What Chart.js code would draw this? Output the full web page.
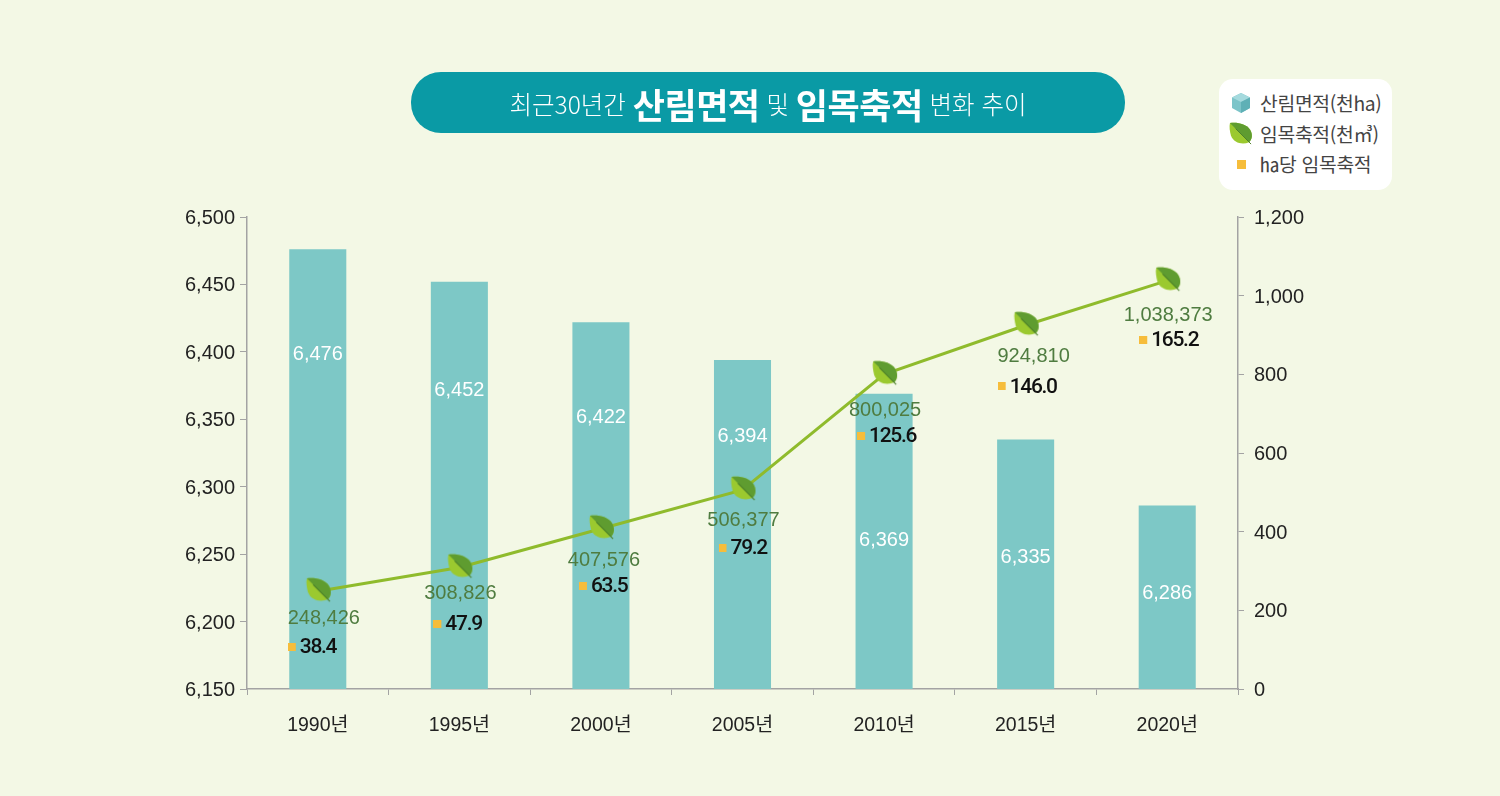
<!DOCTYPE html>
<html lang="ko">
<head>
<meta charset="utf-8">
<title>최근30년간 산림면적 및 임목축적 변화 추이</title>
<script src="https://cdn.jsdelivr.net/npm/chart.js@4"></script>
<style>
  html, body { margin: 0; padding: 0; background: #f3f8e5; }
  body { width: 1500px; height: 796px; overflow: hidden; position: relative;
         font-family: 'Liberation Sans', 'Noto Sans CJK KR', sans-serif; }
  #chart { position: absolute; left: 0; top: 0; }
  #title { position: absolute; left: 411px; top: 72px; width: 714px; height: 59px; padding-top: 2px; border-radius: 30px;
           background: #0a9aa5; color: #fff; display: flex; align-items: center; justify-content: center;
           font-family: 'Noto Sans CJK KR', sans-serif; font-size: 24.5px; font-weight: 300; white-space: pre; }
  #title b { font-size: 35px; font-weight: 700; letter-spacing: -0.5px; }
  #legend { position: absolute; left: 1219px; top: 79px; width: 173px; height: 111px; border-radius: 14px; background: #fff; }
  .item { position: absolute; left: 0; height: 30px; width: 173px; color: #444; font-size: 19.3px; line-height: 30px;
          font-family: 'Noto Sans CJK KR', sans-serif; font-weight: 400; white-space: nowrap; letter-spacing: -0.3px; }
  .item span { position: absolute; left: 41px; top: 0; }
  .item svg { position: absolute; left: 10px; top: 3px; }
</style>
</head>
<body>
<canvas id="chart" width="1500" height="796"></canvas>
<div id="title">최근30년간 <b>산림면적</b> 및 <b>임목축적</b> 변화 추이</div>
<div id="legend"></div>
<script>
// Data
const years = ['1990년', '1995년', '2000년', '2005년', '2010년', '2015년', '2020년'];
const forestArea = [6476, 6452, 6422, 6394, 6369, 6335, 6286];
const growingStock = [248426, 308826, 407576, 506377, 800025, 924810, 1038373];
const stockPerHa = [38.4, 47.9, 63.5, 79.2, 125.6, 146.0, 165.2];
const leftTicks = [6150, 6200, 6250, 6300, 6350, 6400, 6450, 6500];
const rightTicks = [0, 200000, 400000, 600000, 800000, 1000000, 1200000];
const seriesNames = ['산림면적(천ha)', '임목축적(천㎥)', '㏊당 임목축적'];

// Label placement, pixels
const areaLabelDrop = [105, 109, 95, 77, 147, 118, 88];
const stockLabelDx = [6, 1, 3, 1, 1, 8, 1];
const stockLabelDrop = [27, 26, 32, 31, 36, 31, 35];
const squareDx = [26, 22, 18, 20, 23, 24, 24];

const LEAF_BODY = 'M1 1C9 0 18 2 22 8C25 13 24 18 21 21C14 24 5 22 2 14C1 10 0 5 1 1Z';
const LEAF_DARK = 'M1 1C9 0 18 2 22 8C25 13 24 18 21 21Z';
const LEAF_STEM = 'M7 7L23 23';

const fmt = v => v.toLocaleString('en-US');

function leafImage() {
  const c = document.createElement('canvas');
  c.width = 30; c.height = 30;
  const ctx = c.getContext('2d');
  ctx.translate(3, 1);
  ctx.scale(1.05, 1.05);
  ctx.fillStyle = '#9bc92f';
  ctx.fill(new Path2D(LEAF_BODY));
  ctx.fillStyle = '#5f9c30';
  ctx.fill(new Path2D(LEAF_DARK));
  ctx.strokeStyle = '#4b7f2a';
  ctx.lineWidth = 1;
  ctx.stroke(new Path2D(LEAF_STEM));
  return c;
}

// point image with the square shifted left of the category centre
function squareImage(dx) {
  const c = document.createElement('canvas');
  c.width = (dx + 4) * 2; c.height = 8;
  const ctx = c.getContext('2d');
  ctx.fillStyle = '#f6bd3b';
  ctx.fillRect(0, 0, 8, 8);
  return c;
}

const leaf = leafImage();
const squares = squareDx.map(squareImage);

const valueLabels = {
  id: 'valueLabels',
  afterDatasetsDraw(chart) {
    const ctx = chart.ctx;
    const bars = chart.getDatasetMeta(0).data;
    const line = chart.getDatasetMeta(1).data;
    const sq = chart.getDatasetMeta(2).data;
    ctx.save();
    ctx.textBaseline = 'middle';
    years.forEach((y, i) => {
      ctx.textAlign = 'center';
      ctx.font = "20px 'Liberation Sans'";
      ctx.letterSpacing = '0px';
      ctx.fillStyle = '#ffffff';
      ctx.fillText(fmt(forestArea[i]), bars[i].x, bars[i].y + areaLabelDrop[i]);
      ctx.fillStyle = '#4f7c40';
      ctx.fillText(fmt(growingStock[i]), line[i].x + stockLabelDx[i], line[i].y + stockLabelDrop[i]);
      ctx.textAlign = 'left';
      ctx.font = "500 21px Roboto";
      ctx.letterSpacing = '-1.3px';
      ctx.fillStyle = '#111111';
      ctx.fillText(stockPerHa[i].toFixed(1), sq[i].x - squareDx[i] + 8, sq[i].y + 1);
    });
    ctx.restore();
  }
};

const AXIS_GRAY = '#a3a3a3';
const TICK_FONT = { family: "'Liberation Sans', 'Noto Sans CJK KR'", size: 20 };
const YEAR_FONT = { family: "'Liberation Sans', 'Noto Sans CJK KR'", size: 19.5 };

const chart = new Chart(document.getElementById('chart'), {
  data: {
    labels: years,
    datasets: [{
      type: 'bar',
      label: seriesNames[0],
      data: forestArea,
      yAxisID: 'yArea',
      backgroundColor: '#7dc8c6',
      barPercentage: 0.403,
      categoryPercentage: 1,
      order: 3
    }, {
      type: 'line',
      label: seriesNames[1],
      data: growingStock,
      yAxisID: 'yStock',
      borderColor: '#8fbb2c',
      borderWidth: 3,
      tension: 0,
      pointStyle: leaf,
      order: 2
    }, {
      type: 'line',
      label: seriesNames[2],
      data: stockPerHa,
      yAxisID: 'yPerHa',
      showLine: false,
      pointStyle: ctx => squares[ctx.dataIndex],
      order: 1
    }]
  },
  options: {
    responsive: false,
    animation: false,
    layout: { padding: { top: 217 } },
    plugins: { legend: { display: false }, tooltip: { enabled: false } },
    scales: {
      x: {
        offset: true,
        afterFit: s => { s.height = 107; },
        border: { color: AXIS_GRAY, width: 1.5 },
        grid: { offset: true, drawOnChartArea: false, color: AXIS_GRAY, tickLength: 6 },
        ticks: { color: '#222', font: YEAR_FONT, padding: 19, maxRotation: 0 }
      },
      yArea: {
        position: 'left',
        min: 6150,
        max: 6500,
        afterFit: s => { s.width = 247; },
        afterBuildTicks: s => { s.ticks = leftTicks.map(value => ({ value })); },
        border: { color: AXIS_GRAY, width: 1.5 },
        grid: { drawOnChartArea: false, color: AXIS_GRAY, tickLength: 7 },
        ticks: { color: '#222', font: TICK_FONT, padding: 5, labelOffset: 1.5, callback: v => fmt(v) }
      },
      yStock: {
        position: 'right',
        min: 0,
        max: 1200000,
        afterFit: s => { s.width = 262; },
        afterBuildTicks: s => { s.ticks = rightTicks.map(value => ({ value })); },
        border: { color: AXIS_GRAY, width: 1.5 },
        grid: { drawOnChartArea: false, color: AXIS_GRAY, tickLength: 6 },
        ticks: { color: '#222', font: TICK_FONT, padding: 10, labelOffset: 1.5, callback: v => fmt(v / 1000) }
      },
      // per-hectare squares sit on their own unseen scale
      yPerHa: { display: false, min: 21, max: 216 }
    }
  },
  plugins: [valueLabels]
});

// HTML legend built from the chart's datasets
const icons = [
  '<svg width="24" height="24" viewBox="0 0 24 24"><path d="M12 2L21 6.5V17L12 22L3 17V6.5Z" fill="#7cc4c9"/><path d="M12 2L21 6.5L12 11L3 6.5Z" fill="#a5dade"/><path d="M12 11L21 6.5V17L12 22Z" fill="#5fb0b6"/></svg>',
  '<svg width="24" height="24" viewBox="0 0 25 25"><path d="' + LEAF_BODY + '" fill="#9bc92f"/><path d="' + LEAF_DARK + '" fill="#5f9c30"/><path d="' + LEAF_STEM + '" stroke="#4b7f2a" fill="none"/></svg>',
  '<svg width="24" height="24" viewBox="0 0 24 24"><rect x="8" y="8" width="9" height="9" fill="#f6bd3b"/></svg>'
];
const legendTops = [9, 40, 70];
chart.data.datasets.forEach((ds, i) => {
  const item = document.createElement('div');
  item.className = 'item';
  item.style.top = legendTops[i] + 'px';
  item.innerHTML = icons[i] + '<span>' + ds.label + '</span>';
  document.getElementById('legend').appendChild(item);
});
</script>
</body>
</html>
